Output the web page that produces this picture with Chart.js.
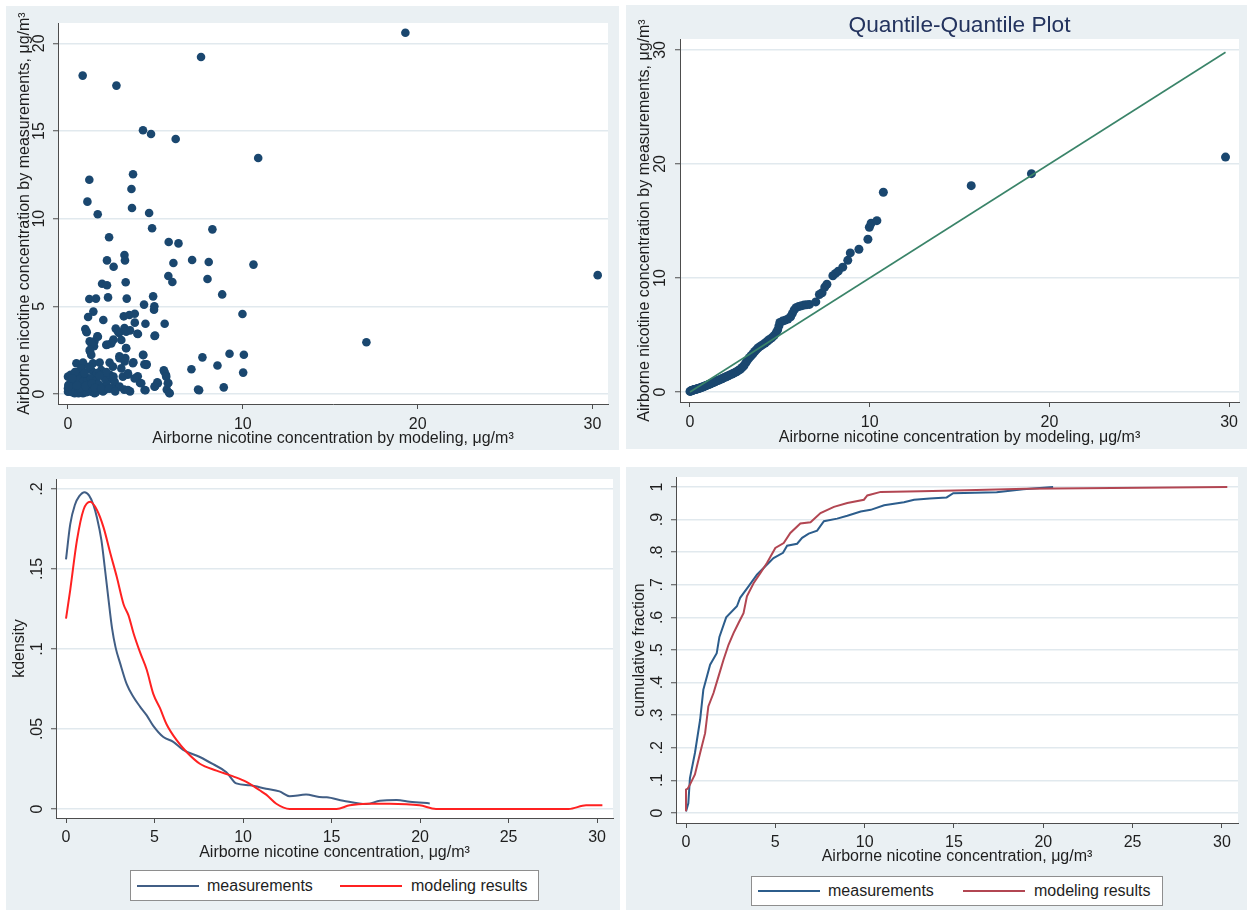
<!DOCTYPE html>
<html>
<head>
<meta charset="utf-8">
<title>Airborne nicotine concentration: modeling vs. measurements</title>
<script src="https://cdn.jsdelivr.net/npm/chart.js@4.4.1/dist/chart.umd.min.js"></script>
<style>
  html, body { margin: 0; padding: 0; background: #ffffff; }
  body { width: 1248px; height: 912px; position: relative; overflow: hidden;
         font-family: "Liberation Sans", Arial, sans-serif; }
  .panel { position: absolute; background: #eaf0f3; }
  .panel canvas { position: absolute; left: 0; top: 0; }
  .graph-title { position: absolute; text-align: center; color: #23335e;
                 font-size: 22.7px; line-height: 26px; white-space: nowrap; }
  .legend { position: absolute; background: #ffffff; border: 1px solid #8e8e8e; box-sizing: border-box; }
  .legend .swatch { position: absolute; height: 2px; }
  .legend .lab { position: absolute; font-size: 16px; line-height: 18px; color: #1e1e1e; white-space: nowrap; }
</style>
</head>
<body>

<div class="panel" id="pScatter" style="left:6px;top:6px;width:613px;height:444px;">
  <canvas id="cScatter" width="613" height="444"></canvas>
</div>
<div class="panel" id="pQQ" style="left:626px;top:5px;width:621px;height:444px;">
  <canvas id="cQQ" width="621" height="444"></canvas>
</div>
<div class="graph-title" style="left:680px;top:11px;width:559px;">Quantile-Quantile Plot</div>
<div class="panel" id="pKde" style="left:6px;top:467px;width:614px;height:443px;">
  <canvas id="cKde" width="614" height="443"></canvas>
</div>
<div class="panel" id="pCdf" style="left:626px;top:467px;width:621px;height:443px;">
  <canvas id="cCdf" width="621" height="443"></canvas>
</div>
<div class="legend" id="legKde" style="left:130px;top:870px;width:409px;height:31px;"></div>
<div class="legend" id="legCdf" style="left:751px;top:876px;width:412px;height:30px;"></div>

<script>
// ---------------- data ----------------

// Scatter: each site, modeled concentration vs. measured concentration (µg/m³)
const scatterModel = [
  0.84, 2.77, 7.61, 19.3, 4.29, 4.75, 6.16, 10.88, 1.22, 1.11,
  1.70, 3.72, 3.63, 3.66, 4.64, 4.81, 8.26, 2.35, 5.76, 6.32,
  3.23, 3.26, 2.23, 2.61, 7.10, 8.05, 6.03, 10.61, 30.3, 5.74,
  5.97, 7.98, 3.30, 1.95, 2.23, 8.82, 4.87, 1.22, 1.60, 2.29,
  3.36, 4.35, 4.94, 4.92, 9.98, 1.45, 1.15, 3.19, 3.51, 3.82,
  2.02, 3.82, 4.43, 5.53, 0.99, 1.07, 2.73, 3.23, 3.55, 3.97,
  4.98, 17.07, 9.24, 10.06, 7.69, 8.55, 7.06, 10.02, 5.48, 5.60,
  4.37, 4.50, 4.31, 3.74, 3.42, 3.99, 4.12, 5.74, 4.98, 5.11,
  4.43, 5.80, 5.65, 7.50, 7.44, 8.91, 3.55, 3.21, 2.75, 2.92,
  2.60, 2.25, 3.32, 2.94, 3.28, 1.68, 1.24, 1.51, 1.26, 1.49,
  1.05, 1.71, 2.86, 3.33, 4.00, 4.95, 2.48, 3.05, 1.33, 3.33,
  1.24, 1.33, 2.19, 0.48, 0.86, 1.43, 1.81, 2.38, 2.95, 3.24,
  3.71, 4.29, 4.48, 0.57, 0.76, 1.33, 1.90, 2.57, 3.05, 0.00,
  0.19, 0.38, 0.76, 1.14, 1.52, 1.90, 2.29, 2.67, 3.14, 3.43,
  3.81, 4.19, 5.52, 5.62, 5.14, 4.95, 4.38, 5.71, 5.81, 3.43,
  2.95, 2.48, 2.10, 1.71, 1.33, 0.95, 0.57, 0.19, 0.00, 0.02,
  0.00, 0.38, 0.86, 1.52, 2.00, 1.43, 1.05, 0.67, 0.29,
  0.10, 0.25, 0.45, 0.60, 0.75, 0.90, 1.05, 1.20, 1.40, 1.60,
  1.80, 2.00, 2.20, 0.30, 0.55, 0.85, 1.10, 1.30, 1.60, 1.75,
  2.10, 2.40, 0.15, 0.40, 0.95, 1.20, 1.65, 2.20, 2.60, 0.05,
  0.70, 1.00, 1.35, 1.55, 1.90, 2.35, 2.70, 0.50, 1.80, 0.25
];
const scatterMeasured = [
  18.16, 17.59, 19.22, 20.6, 15.04, 14.83, 14.54, 13.46, 12.22, 10.97,
  10.25, 12.53, 11.69, 10.61, 10.32, 9.45, 9.39, 8.94, 8.67, 8.59,
  7.93, 7.62, 7.62, 7.26, 7.64, 7.53, 7.47, 7.38, 6.78, 6.73,
  6.39, 6.56, 6.37, 6.29, 6.20, 5.68, 5.57, 5.42, 5.44, 5.51,
  5.44, 5.10, 5.00, 4.81, 4.56, 4.70, 4.39, 4.43, 4.51, 4.58,
  4.22, 4.07, 4.01, 4.01, 3.71, 3.52, 3.73, 3.76, 3.63, 3.44,
  3.33, 2.95, 2.30, 2.24, 2.09, 1.63, 1.41, 1.22, 1.35, 1.10,
  1.69, 1.69, 2.22, 1.81, 1.10, 1.01, 0.63, 0.63, 0.44, 0.67,
  0.21, 0.06, 0.25, 0.21, 0.25, 0.38, 0.15, 0.25, 0.44, 3.48,
  3.10, 2.81, 2.62, 2.15, 2.05, 3.29, 3.00, 3.00, 2.43, 2.72,
  3.56, 3.27, 3.56, 3.56, 3.42, 3.31, 2.89, 3.08, 2.89, 2.61,
  2.51, 2.23, 2.80, 1.75, 1.79, 1.75, 1.79, 1.79, 2.04, 1.85,
  1.75, 2.23, 1.66, 1.27, 1.46, 1.37, 1.37, 1.56, 1.46, 0.99,
  0.61, 0.80, 0.99, 0.89, 0.99, 1.08, 0.80, 0.70, 0.99, 1.18,
  0.89, 0.61, 1.27, 0.99, 0.61, 0.42, 0.23, 0.61, 0.04, 0.23,
  0.42, 0.32, 0.23, 0.23, 0.13, 0.32, 0.23, 0.23, 0.32, 0.51,
  0.13, 0.04, 0.04, 0.04, 0.42, 0.61, 0.51, 0.51, 0.42,
  0.15, 0.10, 0.20, 0.05, 0.15, 0.20, 0.10, 0.30, 0.40, 0.10,
  0.45, 0.15, 0.55, 0.70, 0.90, 0.70, 0.75, 0.90, 0.75, 0.55,
  0.90, 1.10, 1.10, 1.25, 1.20, 1.55, 1.20, 1.25, 1.00, 0.45,
  0.35, 0.45, 0.60, 0.35, 0.30, 0.30, 0.15, 0.50, 1.05, 0.90
];

// Quantile-quantile pairs (modeled quantile, measured quantile)
const qqModel = [
  0.00, 0.03, 0.06, 0.09, 0.12, 0.15, 0.18, 0.21, 0.25, 0.29, 0.33, 0.37, 0.41, 0.45, 0.50, 0.55,
  0.60, 0.65, 0.70, 0.75, 0.80, 0.86, 0.92, 0.98, 1.04, 1.10, 1.16, 1.22, 1.29, 1.36, 1.43, 1.50,
  1.58, 1.66, 1.74, 1.82, 1.90, 1.98, 2.07, 2.16, 2.25, 2.34, 2.43, 2.52, 2.61, 2.70, 2.80, 2.90,
  3.00, 3.10, 3.20, 3.30, 3.40, 3.50, 3.60, 3.70, 3.80, 3.92, 4.05, 4.18, 4.30, 4.42, 4.55, 4.68,
  4.80, 4.88, 4.95, 5.00, 5.15, 5.30, 5.45, 5.60, 5.70, 5.80, 5.90, 6.05, 6.20, 6.35, 6.50, 6.65,
  7.00, 7.20, 7.35, 7.50, 7.62, 7.95, 8.10, 8.25, 8.50, 8.78, 8.92, 9.40, 9.90, 9.98, 10.08, 10.40,
  10.76, 15.65, 19.00, 29.80
];
const qqMeasured = [
  0.05, 0.08, 0.10, 0.12, 0.14, 0.15, 0.17, 0.19, 0.21, 0.22, 0.24, 0.26, 0.28, 0.30, 0.32, 0.35,
  0.38, 0.41, 0.44, 0.47, 0.50, 0.54, 0.58, 0.62, 0.66, 0.70, 0.74, 0.78, 0.83, 0.88, 0.93, 0.98,
  1.03, 1.08, 1.14, 1.20, 1.26, 1.32, 1.38, 1.45, 1.52, 1.58, 1.65, 1.72, 1.80, 1.90, 2.00, 2.15,
  2.30, 2.55, 2.80, 3.00, 3.18, 3.35, 3.55, 3.72, 3.88, 4.02, 4.15, 4.30, 4.45, 4.60, 4.75, 4.95,
  5.20, 5.45, 5.80, 6.10, 6.22, 6.30, 6.40, 6.60, 6.90, 7.20, 7.40, 7.50, 7.56, 7.62, 7.66, 7.68,
  7.90, 8.55, 8.70, 9.20, 9.45, 10.20, 10.40, 10.60, 10.95, 11.55, 12.20, 12.52, 13.40, 14.45, 14.80, 15.03,
  17.52, 18.10, 19.15, 20.60
];
// Equality reference line
const qqLineX = [0, 29.8];
const qqLineY = [0, 29.8];

// Kernel density curves
const kdeMeasX = [0, 0.24, 0.5, 0.75, 1.05, 1.3, 1.55, 1.75, 2.0, 2.2, 2.4, 2.6, 2.8, 3.06, 3.43, 3.81,
  4.18, 4.56, 4.93, 5.5, 6.06, 6.62, 7.56, 8.31, 9.06, 9.62, 10.38, 11.3, 12.06, 12.63, 13.56, 14.3,
  14.73, 15.66, 16.98, 17.73, 18.68, 19.42, 20.55];
const kdeMeasY = [0.156, 0.178, 0.190, 0.1955, 0.198, 0.196, 0.190, 0.182, 0.168, 0.150, 0.131, 0.113, 0.101, 0.091, 0.078, 0.070,
  0.064, 0.0585, 0.052, 0.045, 0.042, 0.037, 0.0325, 0.028, 0.023, 0.016, 0.0148, 0.0127, 0.011, 0.008, 0.009, 0.0075,
  0.0073, 0.0052, 0.0031, 0.0052, 0.0056, 0.0046, 0.0035];
const kdeModX = [0, 0.24, 0.62, 0.99, 1.37, 1.74, 2.12, 2.5, 2.87, 3.25, 3.53, 3.81, 4.18, 4.56, 4.93, 5.31,
  5.68, 6.25, 6.81, 7.56, 8.5, 9.44, 10.19, 10.94, 11.31, 11.88, 12.63, 15.28, 16.03, 16.97, 18.28, 19.98,
  20.9, 28.4, 29.38, 30.3];
const kdeModY = [0.119, 0.137, 0.168, 0.187, 0.192, 0.187, 0.176, 0.160, 0.145, 0.128, 0.121, 0.110, 0.098, 0.087, 0.072, 0.063,
  0.053, 0.043, 0.0356, 0.0283, 0.024, 0.0204, 0.017, 0.0117, 0.009, 0.0033, 0, 0, 0.0023, 0.0033, 0.0033, 0.0023,
  0, 0, 0.0023, 0.0023];

// Empirical cumulative distributions
const cdfMeasX = [0, 0.13, 0.22, 0.5, 0.79, 0.97, 1.35, 1.72, 1.87, 2.25, 2.85, 3.03, 3.5, 3.97, 4.44, 4.9,
  5.43, 5.66, 6.22, 6.5, 6.87, 7.34, 7.72, 8.46, 9.03, 9.78, 10.34, 11.09, 12.2, 12.77, 13.65, 14.59,
  14.96, 17.39, 18.88, 20.55];
const cdfMeasY = [0.005, 0.03, 0.107, 0.184, 0.286, 0.378, 0.455, 0.49, 0.54, 0.60, 0.634, 0.66, 0.695, 0.731, 0.757, 0.782,
  0.798, 0.82, 0.826, 0.844, 0.857, 0.866, 0.895, 0.903, 0.912, 0.925, 0.93, 0.944, 0.953, 0.961, 0.965, 0.968,
  0.981, 0.984, 0.993, 1.0];
const cdfModX = [0, 0, 0.1, 0.22, 0.5, 0.79, 1.07, 1.25, 1.54, 1.82, 2.1, 2.38, 2.66, 2.94, 3.22, 3.41,
  3.78, 4.16, 4.53, 5.0, 5.47, 5.84, 6.4, 6.97, 7.53, 8.28, 9.03, 9.96, 10.15, 10.9, 13.15, 15.7,
  19.0, 30.3];
const cdfModY = [0.005, 0.072, 0.075, 0.087, 0.118, 0.184, 0.245, 0.327, 0.368, 0.419, 0.47, 0.516, 0.552, 0.583, 0.613, 0.665,
  0.705, 0.736, 0.767, 0.813, 0.828, 0.859, 0.888, 0.892, 0.92, 0.939, 0.951, 0.961, 0.974, 0.985, 0.987, 0.99,
  0.995, 1.0];

// Axis ticks and labels
const scatterXTicks = [0, 10, 20, 30];
const scatterYTicks = [0, 5, 10, 15, 20];
const scatterYTickLabels = ['0', '5', '10', '15', '20'];
const qqXTicks = [0, 10, 20, 30];
const qqYTicks = [0, 10, 20, 30];
const qqYTickLabels = ['0', '10', '20', '30'];
const distXTicks = [0, 5, 10, 15, 20, 25, 30];
const kdeYTicks = [0, 0.05, 0.1, 0.15, 0.2];
const kdeYTickLabels = ['0', '.05', '.1', '.15', '.2'];
const cdfYTicks = [0, 0.1, 0.2, 0.3, 0.4, 0.5, 0.6, 0.7, 0.8, 0.9, 1];
const cdfYTickLabels = ['0', '.1', '.2', '.3', '.4', '.5', '.6', '.7', '.8', '.9', '1'];

const seriesNames = ['measurements', 'modeling results'];

// ---------------- styling ----------------
const FAMILY = '"Liberation Sans", Arial, sans-serif';
const FONT = { family: FAMILY, size: 16 };
const TEXT = '#1e1e1e';
const AXIS = '#4d4d4d';
const GRID = '#e1e9ee';
const NAVY = '#1a476f';
const QQ_LINE = '#3a8469';
const KDE_MEAS = '#415e85';
const KDE_MOD = '#ff2121';
const CDF_MEAS = '#2c5d8c';
const CDF_MOD = '#b24652';

// white plot region
const plotBackground = {
  id: 'plotBackground',
  beforeDraw(chart) {
    const { ctx, chartArea: a } = chart;
    ctx.save();
    ctx.fillStyle = '#ffffff';
    ctx.fillRect(a.left, a.top, a.right - a.left, a.bottom - a.top);
    ctx.restore();
  }
};

// y tick labels written vertically, centred on each tick
const verticalTickLabels = {
  id: 'verticalTickLabels',
  afterDraw(chart, args, opts) {
    const scale = chart.scales.y;
    const ctx = chart.ctx;
    ctx.save();
    ctx.font = '16px ' + FAMILY;
    ctx.fillStyle = TEXT;
    ctx.textAlign = 'center';
    ctx.textBaseline = 'middle';
    opts.values.forEach((v, i) => {
      const py = scale.getPixelForValue(v);
      ctx.save();
      ctx.translate(opts.x, py);
      ctx.rotate(-Math.PI / 2);
      ctx.fillText(opts.labels[i], 0, 0);
      ctx.restore();
    });
    ctx.restore();
  }
};

function pairs(xs, ys) {
  return xs.map((x, i) => ({ x: x, y: ys[i] }));
}

function makeScales(c) {
  return {
    x: {
      type: 'linear', min: c.xMin, max: c.xMax,
      afterBuildTicks: s => { s.ticks = c.xTicks.map(v => ({ value: v })); },
      afterFit: s => { s.height = c.xHeight; },
      grid: { display: true, drawOnChartArea: false, drawTicks: true, tickLength: 5, tickColor: AXIS, tickWidth: 1 },
      border: { display: true, color: AXIS, width: 1 },
      ticks: { padding: c.xTickPad, color: TEXT, font: FONT, maxRotation: 0, minRotation: 0, autoSkip: false,
               callback: v => String(v) },
      title: { display: true, text: c.xTitle, color: TEXT, font: FONT, padding: { top: 0, bottom: c.xTitlePad } }
    },
    y: {
      type: 'linear', min: c.yMin, max: c.yMax,
      afterBuildTicks: s => { s.ticks = c.yTicks.map(v => ({ value: v })); },
      afterFit: s => { s.width = c.yWidth; },
      grid: { display: true, drawOnChartArea: true, color: GRID, lineWidth: 1.5,
              drawTicks: true, tickLength: 5, tickColor: AXIS, tickWidth: 1 },
      border: { display: true, color: AXIS, width: 1 },
      ticks: { display: false },
      title: { display: true, text: c.yTitle, color: TEXT, font: FONT, padding: { top: c.yTitlePad, bottom: 0 } }
    }
  };
}

function baseOptions(c) {
  return {
    responsive: false,
    animation: false,
    devicePixelRatio: 1,
    layout: { padding: c.padding },
    scales: makeScales(c),
    plugins: {
      legend: { display: false },
      tooltip: { enabled: false },
      verticalTickLabels: { x: c.yLabelX, values: c.yTicks, labels: c.yTickLabels }
    }
  };
}

// ---------------- panel 1: scatter ----------------
new Chart(document.getElementById('cScatter'), {
  type: 'scatter',
  data: {
    datasets: [{
      data: pairs(scatterModel, scatterMeasured),
      backgroundColor: NAVY, borderWidth: 0, pointRadius: 4.3
    }]
  },
  options: baseOptions({
    padding: { left: 0, top: 17, right: 11, bottom: 0 },
    xMin: -0.572, xMax: 30.89, yMin: -0.57, yMax: 21.16,
    xTicks: scatterXTicks, yTicks: scatterYTicks, yTickLabels: scatterYTickLabels,
    xHeight: 46, yWidth: 52, xTickPad: 6, xTitlePad: 1.4, yTitlePad: 9.4, yLabelX: 34,
    xTitle: 'Airborne nicotine concentration by modeling, μg/m³',
    yTitle: 'Airborne nicotine concentration by measurements, μg/m³'
  }),
  plugins: [plotBackground, verticalTickLabels]
});

// ---------------- panel 2: quantile-quantile ----------------
new Chart(document.getElementById('cQQ'), {
  type: 'scatter',
  data: {
    datasets: [
      {
        data: pairs(qqLineX, qqLineY), showLine: true, borderColor: QQ_LINE, borderWidth: 1.6,
        pointRadius: 0, fill: false
      },
      {
        data: pairs(qqModel, qqMeasured),
        backgroundColor: NAVY, borderWidth: 0, pointRadius: 4.5
      }
    ]
  },
  options: baseOptions({
    padding: { left: 0, top: 34, right: 8, bottom: 0 },
    xMin: -0.556, xMax: 30.55, yMin: -0.877, yMax: 30.96,
    xTicks: qqXTicks, yTicks: qqYTicks, yTickLabels: qqYTickLabels,
    xHeight: 47, yWidth: 54, xTickPad: 5.9, xTitlePad: 1.4, yTitlePad: 9.4, yLabelX: 35,
    xTitle: 'Airborne nicotine concentration by modeling, μg/m³',
    yTitle: 'Airborne nicotine concentration by measurements, μg/m³'
  }),
  plugins: [plotBackground, verticalTickLabels]
});

// ---------------- panel 3: kernel densities ----------------
new Chart(document.getElementById('cKde'), {
  type: 'scatter',
  data: {
    datasets: [
      {
        label: seriesNames[1], data: pairs(kdeModX, kdeModY), showLine: true,
        borderColor: KDE_MOD, borderWidth: 2, pointRadius: 0, fill: false,
        cubicInterpolationMode: 'monotone'
      },
      {
        label: seriesNames[0], data: pairs(kdeMeasX, kdeMeasY), showLine: true,
        borderColor: KDE_MEAS, borderWidth: 2, pointRadius: 0, fill: false,
        cubicInterpolationMode: 'monotone'
      }
    ]
  },
  options: baseOptions({
    padding: { left: 0, top: 12, right: 7, bottom: 47.4 },
    xMin: -0.565, xMax: 30.9, yMin: -0.005625, yMax: 0.20625,
    xTicks: distXTicks, yTicks: kdeYTicks, yTickLabels: kdeYTickLabels,
    xHeight: 44.6, yWidth: 50, xTickPad: 5.4, xTitlePad: 0, yTitlePad: 4.4, yLabelX: 31.5,
    xTitle: 'Airborne nicotine concentration, μg/m³',
    yTitle: 'kdensity'
  }),
  plugins: [plotBackground, verticalTickLabels]
});

// ---------------- panel 4: cumulative distributions ----------------
new Chart(document.getElementById('cCdf'), {
  type: 'scatter',
  data: {
    datasets: [
      {
        label: seriesNames[1], data: pairs(cdfModX, cdfModY), showLine: true,
        borderColor: CDF_MOD, borderWidth: 2, pointRadius: 0, fill: false
      },
      {
        label: seriesNames[0], data: pairs(cdfMeasX, cdfMeasY), showLine: true,
        borderColor: CDF_MEAS, borderWidth: 2, pointRadius: 0, fill: false
      }
    ]
  },
  options: baseOptions({
    padding: { left: 0, top: 10, right: 9, bottom: 43.4 },
    xMin: -0.56, xMax: 30.9, yMin: -0.0307, yMax: 1.0307,
    xTicks: distXTicks, yTicks: cdfYTicks, yTickLabels: cdfYTickLabels,
    xHeight: 43.6, yWidth: 50, xTickPad: 5.4, xTitlePad: 0, yTitlePad: 4.4, yLabelX: 31.5,
    xTitle: 'Airborne nicotine concentration, μg/m³',
    yTitle: 'cumulative fraction'
  }),
  plugins: [plotBackground, verticalTickLabels]
});

// ---------------- legends ----------------
function buildLegend(id, colors, layout) {
  const box = document.getElementById(id);
  seriesNames.forEach((name, i) => {
    const sw = document.createElement('div');
    sw.className = 'swatch';
    sw.style.left = layout.swatchLeft[i] + 'px';
    sw.style.width = layout.swatchWidth + 'px';
    sw.style.top = layout.midY - 1 + 'px';
    sw.style.background = colors[i];
    box.appendChild(sw);
    const lab = document.createElement('div');
    lab.className = 'lab';
    lab.style.left = layout.textLeft[i] + 'px';
    lab.style.top = layout.midY - 9 + 'px';
    lab.textContent = name;
    box.appendChild(lab);
  });
}
buildLegend('legKde', [KDE_MEAS, KDE_MOD], { swatchLeft: [6, 209], swatchWidth: 62, textLeft: [76, 280], midY: 15 });
buildLegend('legCdf', [CDF_MEAS, CDF_MOD], { swatchLeft: [6, 211], swatchWidth: 62, textLeft: [76, 282], midY: 14 });
</script>
</body>
</html>
